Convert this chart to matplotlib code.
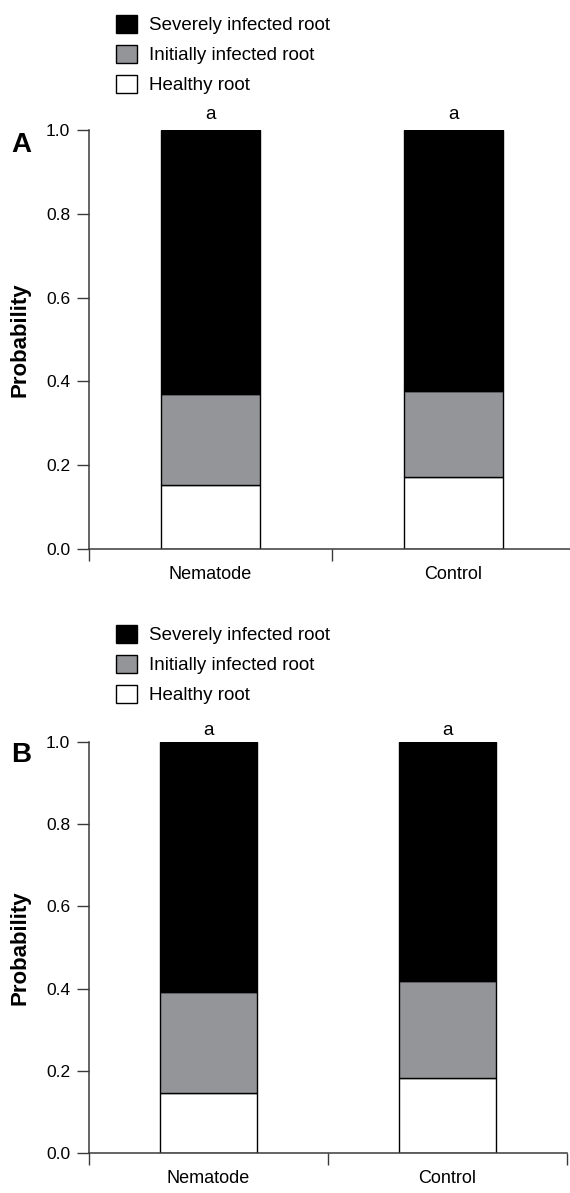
import matplotlib.pyplot as plt
from matplotlib.patches import Patch

plt.rcParams['font.family'] = ['Liberation Sans', 'DejaVu Sans']

groups = ["Nematode", "Control"]
panels = ["A", "B"]
# probabilities, panel A then panel B
healthy = [[0.152, 0.173], [0.146, 0.182]]
initially = [[0.219, 0.205], [0.245, 0.236]]
severely = [[0.629, 0.622], [0.609, 0.582]]
letters = [["a", "a"], ["a", "a"]]
legend_labels = ["Severely infected root", "Initially infected root", "Healthy root"]
yticks = [0.0, 0.2, 0.4, 0.6, 0.8, 1.0]

black = "#000000"
grey = "#939598"
white = "#ffffff"
axcol = "#3a3a3a"

W, H = 570, 1193
fig = plt.figure(figsize=(W / 100, H / 100), dpi=100)

# pixel layout: (axes top, axes bottom, axes right, legend top, panel letter y, letter offset)
layout = [(130, 549, 575, 15, 145, 8), (742, 1153, 567, 625, 755, 5)]
left = 89

for i, (top, bot, right, legtop, lety, aoff) in enumerate(layout):
    ax = fig.add_axes([left / W, 1 - bot / H, (right - left) / W, (bot - top) / H])
    x = range(len(groups))
    w = 0.41
    ax.bar(x, healthy[i], w, color=white, edgecolor=black, linewidth=1)
    ax.bar(x, initially[i], w, bottom=healthy[i], color=grey, edgecolor=black, linewidth=1)
    b2 = [h + g for h, g in zip(healthy[i], initially[i])]
    ax.bar(x, severely[i], w, bottom=b2, color=black, edgecolor=black, linewidth=1)

    for j, lab in enumerate(letters[i]):
        tot = healthy[i][j] + initially[i][j] + severely[i][j]
        ax.annotate(lab, (j, tot), xytext=(0, aoff), textcoords="offset points",
                    ha="center", va="baseline", fontsize=13.5)

    ax.set_xlim(-0.5, 1.5)
    ax.set_ylim(0, 1.0)
    ax.set_yticks(yticks)
    ax.set_yticklabels([f"{t:.1f}" for t in yticks], fontsize=12.5)
    ax.set_xticks(list(x))
    ax.set_xticklabels(groups, fontsize=13)
    ax.set_xticks([-0.5, 0.5, 1.5], minor=True)
    ax.tick_params(axis="x", which="major", length=0, pad=12)
    ax.tick_params(axis="x", which="minor", length=8.6, width=1, direction="out", color=axcol)
    ax.tick_params(axis="y", length=8.6, width=1, direction="out", color=axcol, pad=5)
    for s in ["top", "right"]:
        ax.spines[s].set_visible(False)
    for s in ["left", "bottom"]:
        ax.spines[s].set_color(axcol)
        ax.spines[s].set_linewidth(1.1)
    ax.spines["left"].set_bounds(0, 1.0)

    handles = [Patch(facecolor=c, edgecolor=black, linewidth=1) for c in (black, grey, white)]
    ax.legend(handles, legend_labels, loc="upper left",
              bbox_to_anchor=(116 / W, 1 - legtop / H), bbox_transform=fig.transFigure,
              frameon=False, fontsize=13.5, handlelength=1.12, handleheight=1.12,
              handletextpad=0.64, labelspacing=0.56, borderpad=0, borderaxespad=0)

    fig.text(21 / W, 1 - lety / H, panels[i], fontsize=20, fontweight="bold",
             ha="center", va="center")
    fig.text(20 / W, 1 - (top + bot) / 2 / H, "Probability", fontsize=16,
             fontweight="bold", rotation=90, ha="center", va="center")

fig.savefig("out.png", dpi=100)
